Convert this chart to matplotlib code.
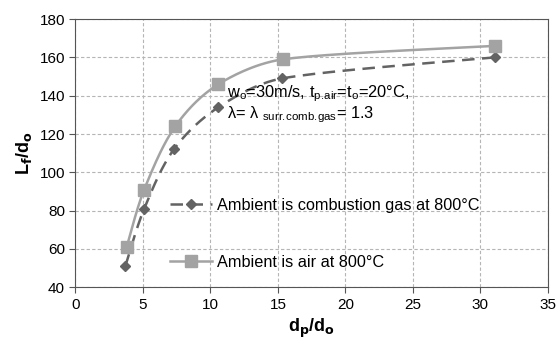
import numpy as np
import matplotlib.pyplot as plt
from matplotlib.lines import Line2D

plt.rcParams['font.family'] = ['Liberation Sans', 'DejaVu Sans']

# data
air_x = [3.8, 5.1, 7.4, 10.6, 15.4, 31.1]
air_y = [61, 91, 124, 146, 159, 166]
gas_x = [3.7, 5.1, 7.3, 10.6, 15.3, 31.1]
gas_y = [51, 81, 112, 134, 149, 160]
xticks = [0, 5, 10, 15, 20, 25, 30, 35]
yticks = [40, 60, 80, 100, 120, 140, 160, 180]


def smooth(x, y, n=40):
    # Excel-like smoothed line, computed in screen-proportional units
    sxk, syk = 473 / 35.0, 268 / 140.0
    p = np.column_stack([np.array(x) * sxk, np.array(y) * syk]).astype(float)
    p = np.vstack([p[0], p, p[-1]])
    out = []
    for i in range(1, len(p) - 2):
        p0, p1, p2, p3 = p[i - 1], p[i], p[i + 1], p[i + 2]
        seg = np.hypot(*(p2 - p1))
        t1 = (p2 - p0) / 6
        t2 = (p3 - p1) / 6
        # keep the handles short so long segments don't kink
        t1 = t1 * min(1, seg / 3 / max(np.hypot(*t1), 1e-9))
        t2 = t2 * min(1, seg / 3 / max(np.hypot(*t2), 1e-9))
        c1 = p1 + t1
        c2 = p2 - t2
        t = np.linspace(0, 1, n)[:, None]
        b = (1 - t) ** 3 * p1 + 3 * (1 - t) ** 2 * t * c1 + 3 * (1 - t) * t ** 2 * c2 + t ** 3 * p2
        out.append(b)
    out = np.vstack(out)
    return out[:, 0] / sxk, out[:, 1] / syk


fig, ax = plt.subplots(figsize=(5.58, 3.4), dpi=100)
fig.subplots_adjust(left=0.135, right=0.982, top=0.944, bottom=0.155)

air_c = '#a3a3a3'
gas_c = '#636363'

sx, sy = smooth(gas_x, gas_y)
ax.plot(sx, sy, color=gas_c, lw=1.8, ls=(0, (5, 3)))
ax.plot(gas_x, gas_y, ls='none', marker='D', ms=5, color=gas_c)
sx, sy = smooth(air_x, air_y)
ax.plot(sx, sy, color=air_c, lw=1.8)
ax.plot(air_x, air_y, ls='none', marker='s', ms=8, color=air_c)

ax.set_xlim(0, 35)
ax.set_ylim(40, 180)
ax.set_xticks(xticks)
ax.set_yticks(yticks)
ax.grid(True, color='#b5b5b5', ls=(0, (3, 2)), lw=0.8)
for s in ax.spines.values():
    s.set_color('#555555')
ax.tick_params(labelsize=11, color='#555555', length=4)
ax.set_xlabel('d$_\\mathbf{p}$/d$_\\mathbf{o}$', fontsize=13, fontweight='bold', labelpad=4)
ax.set_ylabel('L$_\\mathbf{f}$/d$_\\mathbf{o}$', fontsize=13, fontweight='bold', labelpad=4)

note = ('w$_\\mathregular{o}$=30m/s, t$_\\mathregular{p.\\!air}$=t$_\\mathregular{o}$=20\u00b0C,\n'
        '\u03bb= \u03bb $_\\mathregular{surr.\\!comb.\\!gas}$= 1.3')
ax.text(11.2, 135.5, note, fontsize=11.8, va='center', ha='left', linespacing=1.0)

h1 = Line2D([], [], color=gas_c, lw=1.8, ls=(0, (5, 3)), marker='D', ms=5)
h2 = Line2D([], [], color=air_c, lw=1.8, marker='s', ms=8)
ax.legend([h1, h2], ['Ambient is combustion gas at 800\u00b0C', 'Ambient is air at 800\u00b0C'],
          loc='lower left', bbox_to_anchor=(0.2, 0.065), frameon=False, fontsize=11.7,
          borderpad=0, borderaxespad=0,
          handlelength=2.6, handletextpad=0.3, labelspacing=2.6)

plt.savefig('out.png')
